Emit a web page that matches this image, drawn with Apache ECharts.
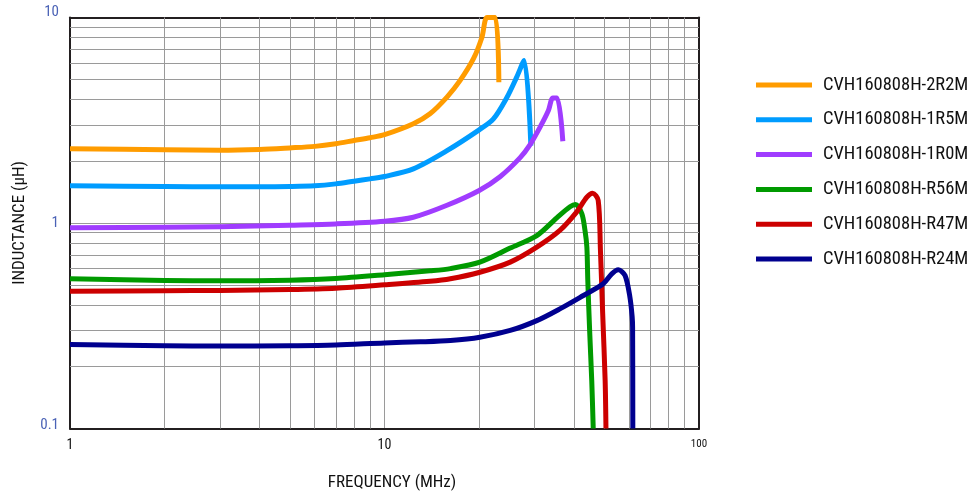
<!DOCTYPE html>
<html>
<head>
<meta charset="utf-8">
<script src="https://cdn.jsdelivr.net/npm/echarts@6/dist/echarts.min.js"></script>
<style>
html,body{margin:0;padding:0;background:#fff;}
#c{width:972px;height:498px;}
</style>
</head>
<body>
<div id="c"></div>
<script>
// ---- data (frequency in MHz, inductance in µH) ----
const seriesNames = ['CVH160808H-2R2M','CVH160808H-1R5M','CVH160808H-1R0M','CVH160808H-R56M','CVH160808H-R47M','CVH160808H-R24M'];
const seriesColors = ['#ff9c00','#009cff','#a03cff','#009a00','#cc0000','#00008f'];

const freq2R2M = [1,2,3,4,5,6,7,8,9,10,12.35,13.95,15.8,17.4,19.2,20.4,21.2,22.5,23.1];
const ind2R2M  = [2.30,2.27,2.26,2.28,2.32,2.36,2.43,2.52,2.60,2.69,3.04,3.40,4.10,4.94,6.32,8.0,10,10,4.84];

const freq1R5M = [1,2,3,4,5,6,7,8,9,10,12.35,15.8,20,22.2,24.5,26.3,27.8,29.2];
const ind1R5M  = [1.517,1.505,1.50,1.50,1.505,1.517,1.55,1.597,1.64,1.683,1.835,2.25,2.84,3.21,4.08,5.11,6.18,2.38];

const freq1R0M = [1,2,3,5,7,10,12.35,15.8,20,23.3,27,29.0,31.2,33.2,34.3,35.4,36.9];
const ind1R0M  = [0.947,0.954,0.958,0.976,0.99,1.02,1.067,1.22,1.44,1.68,2.08,2.40,2.92,3.53,4.06,4.06,2.50];

const freqR56M = [1,2,3,5,7,10,13.95,16.2,20.1,25.1,30.5,35.3,38.9,40.5,42.4,43.4,44.0,44.3,44.9,45.6,46.1];
const indR56M  = [0.535,0.525,0.523,0.527,0.537,0.560,0.585,0.60,0.645,0.755,0.869,1.06,1.20,1.23,1.11,0.92,0.763,0.525,0.30,0.171,0.1];

const freqR47M = [1,2,3,5,7,10,13.95,16.2,20.1,25.1,30.5,36.1,40.8,44.0,45.9,47.8,48.6,49.4,50.3,50.6];
const indR47M  = [0.466,0.468,0.47,0.475,0.482,0.50,0.52,0.535,0.576,0.645,0.763,0.92,1.13,1.335,1.397,1.29,0.735,0.363,0.171,0.1];

const freqR24M = [1,2,3,5,7,10,13,16.2,20.1,25.1,30.5,36.1,42.9,49.6,52.8,55.4,58.2,60.3,61.3,61.5,61.6];
const indR24M  = [0.256,0.253,0.252,0.253,0.255,0.261,0.264,0.268,0.278,0.30,0.335,0.382,0.444,0.506,0.566,0.592,0.555,0.436,0.35,0.31,0.1];

const xMinorGrid = [2,3,4,5,6,7,8,9,20,30,40,50,60,70,80,90];
const yMinorGrid = [0.2,0.3,0.4,0.5,0.6,0.7,0.8,0.9,2,3,4,5,6,7,8,9];
const xTickLabels = ['1','10','100'];
const yTickLabels = ['0.1','1','10'];

const freqs = [freq2R2M,freq1R5M,freq1R0M,freqR56M,freqR47M,freqR24M];
const inds  = [ind2R2M,ind1R5M,ind1R0M,indR56M,indR47M,indR24M];

const FONT = "'Roboto Condensed','Roboto',sans-serif";

const series = seriesNames.map((name,i)=>({
  name: name,
  type: 'line',
  data: freqs[i].map((f,j)=>[f, inds[i][j]]),
  showSymbol: false,
  symbol: 'none',
  smooth: 0.3,
  clip: true,
  z: 5,
  lineStyle: {color: seriesColors[i], width: 5, cap: 'butt', join: 'round'},
  itemStyle: {color: seriesColors[i]}
}));

series.push({
  name: 'grid',
  type: 'line',
  data: [[1,1]],
  symbol: 'none',
  lineStyle: {opacity: 0},
  z: 1,
  silent: true,
  markLine: {
    silent: true,
    symbol: 'none',
    animation: false,
    label: {show: false},
    lineStyle: {color: '#9a9a9a', type: 'solid', width: 1},
    emphasis: {disabled: true},
    data: xMinorGrid.map(v=>({xAxis: v})).concat(yMinorGrid.map(v=>({yAxis: v})))
  }
});

const chart = echarts.init(document.getElementById('c'), null, {renderer: 'canvas'});
chart.setOption({
  animation: false,
  backgroundColor: '#fff',
  grid: {left: 70, top: 17.5, width: 629, height: 411, show: false},
  legend: {
    data: seriesNames,
    orient: 'vertical',
    left: 751,
    top: 70,
    icon: 'rect',
    itemWidth: 56,
    itemHeight: 5,
    itemGap: 14.8,
    textStyle: {fontSize: 18.5, fontFamily: FONT, color: '#111', lineHeight: 20, padding: [0,0,0,6]}
  },
  xAxis: [{
    type: 'log', logBase: 10, min: 1, max: 100,
    name: 'FREQUENCY (MHz)', nameLocation: 'middle', nameGap: 46,
    nameTextStyle: {fontSize: 17, fontFamily: FONT, color: '#111', padding: [0,0,0,15]},
    axisLine: {show: true, lineStyle: {color: '#231f20', width: 2}},
    axisTick: {show: false},
    splitLine: {show: true, lineStyle: {color: '#9a9a9a', width: 1}},
    axisLabel: {
      margin: 10, color: '#111', fontFamily: FONT, fontSize: 14,
      formatter: v => {
        const s = xTickLabels.find(t => Math.abs(parseFloat(t) - v) < 1e-6) || '';
        return s === '100' ? '{s|' + s + '}' : s;
      },
      rich: {s: {fontSize: 11, fontFamily: FONT, color: '#111'}}
    }
  },{
    type: 'log', logBase: 10, min: 1, max: 100, position: 'top',
    axisLine: {show: true, lineStyle: {color: '#231f20', width: 2}},
    axisTick: {show: false}, axisLabel: {show: false}, splitLine: {show: false}
  }],
  yAxis: [{
    type: 'log', logBase: 10, min: 0.1, max: 10,
    name: 'INDUCTANCE (µH)', nameLocation: 'middle', nameGap: 42,
    nameTextStyle: {fontSize: 17, fontFamily: FONT, color: '#111'},
    axisLine: {show: true, lineStyle: {color: '#231f20', width: 2}},
    axisTick: {show: false},
    splitLine: {show: true, lineStyle: {color: '#9a9a9a', width: 1}},
    axisLabel: {
      margin: 11, color: '#4a62b6', fontFamily: FONT, fontSize: 15,
      formatter: v => {
        const s = yTickLabels.find(t => Math.abs(parseFloat(t) - v) < 1e-9) || '';
        if (s === '10') return '{t|10}';
        if (s === '0.1') return '{b|0.1}';
        return s;
      },
      rich: {
        t: {fontSize: 15, fontFamily: FONT, color: '#4a62b6', padding: [0,0,11,0]},
        b: {fontSize: 15, fontFamily: FONT, color: '#4a62b6', padding: [0,0,6,0]}
      }
    }
  },{
    type: 'log', logBase: 10, min: 0.1, max: 10, position: 'right',
    axisLine: {show: true, lineStyle: {color: '#231f20', width: 2}},
    axisTick: {show: false}, axisLabel: {show: false}, splitLine: {show: false}
  }],
  series: series
});
</script>
</body>
</html>
